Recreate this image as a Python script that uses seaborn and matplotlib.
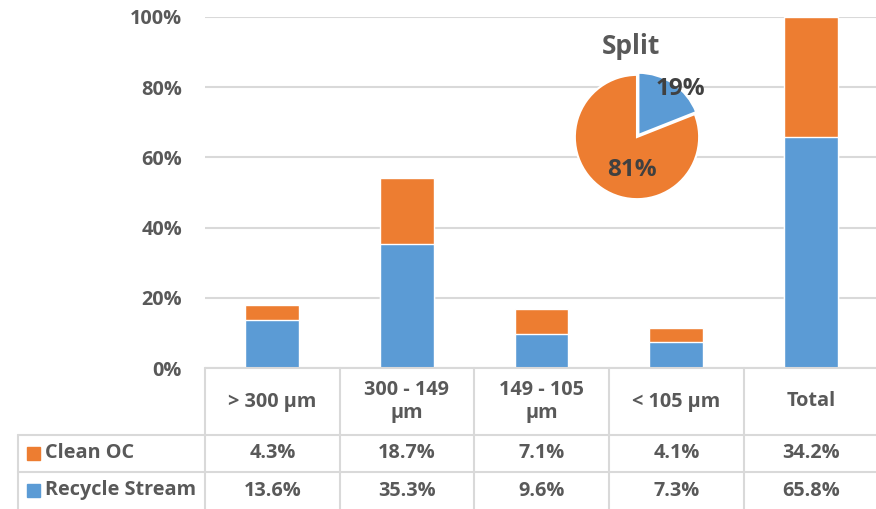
import matplotlib
matplotlib.use("Agg")
import matplotlib.pyplot as plt
from matplotlib.ticker import PercentFormatter
from matplotlib.patches import Rectangle
import seaborn as sns
import pandas as pd

# Size fractions and their shares (percent of feed)
categories = ["> 300 µm", "300 - 149\nµm", "149 - 105\nµm", "< 105 µm", "Total"]
clean_oc = [4.3, 18.7, 7.1, 4.1, 34.2]
recycle_stream = [13.6, 35.3, 9.6, 7.3, 65.8]
series_names = ["Clean OC", "Recycle Stream"]

# Split shown in the inset pie
split_labels = ["Recycle Stream", "Clean OC"]
split_values = [19, 81]

ORANGE = "#ED7D31"
BLUE = "#5B9BD5"
GRID = "#D9D9D9"
TEXT = "#595959"

sns.set_theme(style="white")
plt.rcParams["font.family"] = ["Open Sans", "DejaVu Sans"]
plt.rcParams["font.weight"] = "bold"

W, H = 876, 509
FS = 14.3
fig = plt.figure(figsize=(W / 100, H / 100), dpi=100)

def fig_rect(x0, y0, x1, y1):
    return [x0 / W, 1 - y1 / H, (x1 - x0) / W, (y1 - y0) / H]

df = pd.DataFrame({
    "category": categories,
    "clean": [c / 100 for c in clean_oc],
    "recycle": [r / 100 for r in recycle_stream],
})
df["total"] = df["clean"] + df["recycle"]

# Stacked bars: full height in orange, recycle share in blue over it
ax = fig.add_axes(fig_rect(205, 17, 878, 368))
sns.barplot(data=df, x="category", y="total", color=ORANGE, width=0.4,
            saturation=1, ax=ax, zorder=2)
sns.barplot(data=df, x="category", y="recycle", color=BLUE, width=0.4,
            saturation=1, ax=ax, zorder=3)
ax.set_xlim(-0.5, len(categories) - 0.5)
ax.set_ylim(0, 1)
ax.set_yticks([0, 0.2, 0.4, 0.6, 0.8, 1.0])
ax.yaxis.set_major_formatter(PercentFormatter(1.0, decimals=0))
ax.yaxis.grid(True, color=GRID, linewidth=1.5, zorder=0)
ax.set_axisbelow(True)
ax.set_xticks([])
ax.set_xlabel("")
ax.set_ylabel("")
ax.tick_params(axis="y", length=0, pad=16.5, labelsize=FS, labelcolor=TEXT)
for lab in ax.get_yticklabels():
    lab.set_fontweight("bold")
for s in ax.spines.values():
    s.set_visible(False)

# Data table below the bars
tab = fig.add_axes([0, 0, 1, 1], zorder=5)
tab.set_xlim(0, W)
tab.set_ylim(H, 0)
tab.axis("off")
tab.patch.set_alpha(0)

col_edges = [205, 340, 474, 609, 744, 878]
row_edges = [368, 435, 472, 512]
lw = 1.5
tab.plot([205, 878], [368, 368], color=GRID, lw=lw)
for y in row_edges[1:]:
    tab.plot([18, 878], [y, y], color=GRID, lw=lw)
tab.plot([18, 18], [435, 512], color=GRID, lw=lw)
for x in col_edges[:-1]:
    tab.plot([x, x], [368, 512], color=GRID, lw=lw)

for i, cat in enumerate(categories):
    cx = (col_edges[i] + col_edges[i + 1]) / 2
    tab.text(cx, 401.5, cat, ha="center", va="center", fontsize=FS,
             color=TEXT, fontweight="bold", linespacing=1.2)
    tab.text(cx, 453.5, f"{clean_oc[i]:.1f}%", ha="center", va="center",
             fontsize=FS, color=TEXT, fontweight="bold")
    tab.text(cx, 490.5, f"{recycle_stream[i]:.1f}%", ha="center", va="center",
             fontsize=FS, color=TEXT, fontweight="bold")

for name, color, cy in [(series_names[0], ORANGE, 453), (series_names[1], BLUE, 490)]:
    tab.add_patch(Rectangle((27, cy - 6.5), 13, 13, color=color))
    tab.text(45, cy + 0.5, name, ha="left", va="center", fontsize=FS,
             color=TEXT, fontweight="bold")

# Inset pie
pax = fig.add_axes(fig_rect(637 - 64, 137 - 64, 637 + 64, 137 + 64), zorder=6)
wedges, texts, autotexts = pax.pie(
    split_values, colors=[BLUE, ORANGE], startangle=90, counterclock=False,
    explode=[0.04, 0], autopct="%d%%",
    wedgeprops=dict(edgecolor="white", linewidth=1.5),
    textprops=dict(fontsize=17.5, fontweight="bold", color="#404040"),
)
pax.set_xlim(-1.03, 1.03)
pax.set_ylim(-1.03, 1.03)
pax.set_aspect("equal")
autotexts[0].set_position((0.7, 0.78))
autotexts[1].set_position((-0.08, -0.53))
fig.text(631 / W, 1 - 47 / H, "Split", ha="center", va="center",
         fontsize=19, fontweight="bold", color=TEXT)

fig.savefig("out.png", dpi=100)
